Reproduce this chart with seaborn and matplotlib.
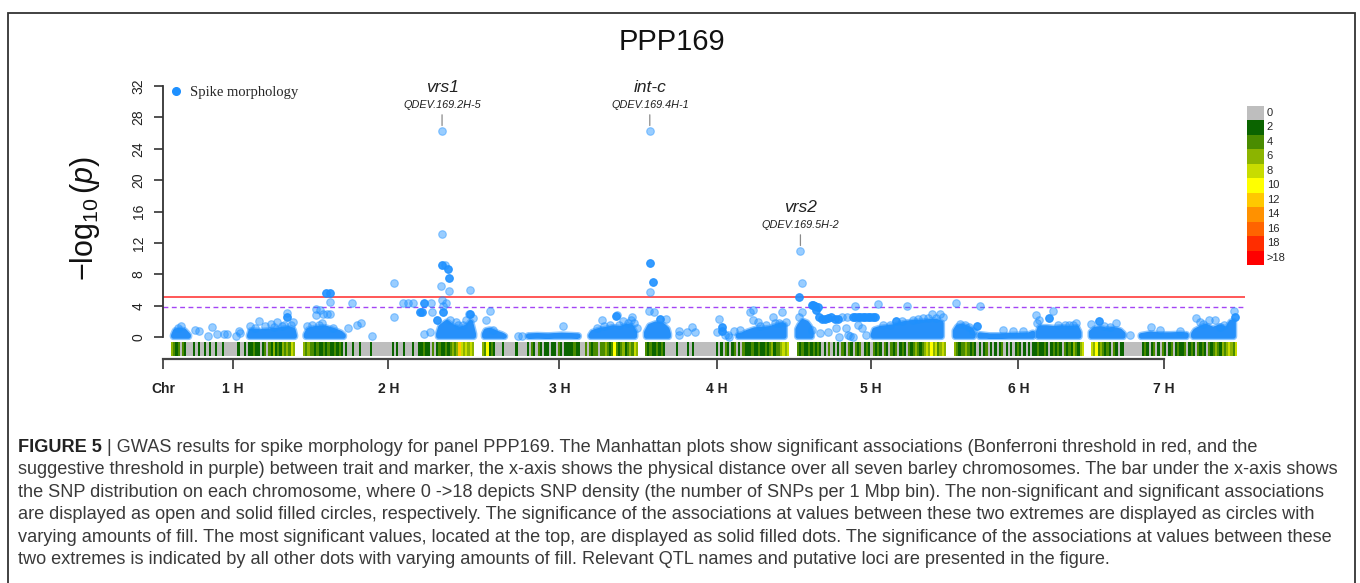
import numpy as np
import pandas as pd
import matplotlib
matplotlib.use("Agg")
import matplotlib.pyplot as plt
from matplotlib.colors import ListedColormap, to_rgb
from matplotlib.lines import Line2D
from matplotlib.patches import Rectangle
import seaborn as sns

sns.set_theme(style="ticks")
plt.rcParams['font.family'] = ['Liberation Sans', 'DejaVu Sans']
plt.rcParams['mathtext.fontset'] = 'custom'
plt.rcParams['mathtext.rm'] = 'Liberation Sans'
plt.rcParams['mathtext.it'] = 'Liberation Sans:italic'

# ---- data ----
CHROMS = ['1 H', '2 H', '3 H', '4 H', '5 H', '6 H', '7 H']
CHR_LEN_MB = [558, 768, 699, 647, 670, 583, 657]
GAP_MB = 36

BONFERRONI = 5.1
SUGGESTIVE = 3.79

# upper edge (Mb, -log10 p) of the dense clouds of non significant SNPs
cloud_1h = [[(11, 0.2), (20, 0.8), (40, 0.9), (60, 0.8), (79, 0.2)],
            [(353, 0.2), (360, 0.8), (400, 0.7), (446, 0.8), (490, 0.95), (530, 1.1), (550, 0.9), (556, 0.2)]]
cloud_2h = [[(14, 0.3), (25, 0.9), (54, 1.1), (99, 1.2), (144, 0.8), (170, 0.5), (182, 0.2)],
            [(610, 0.4), (620, 1.3), (648, 1.9), (675, 1.3), (707, 1.0), (738, 1.3), (755, 1.9), (768, 0.4)]]
cloud_3h = [[(13, 0.4), (20, 0.8), (37, 0.9), (69, 0.5), (90, 0.3), (103, 0.1)],
            [(210, 0.15), (250, 0.2), (300, 0.15), (360, 0.25), (400, 0.2), (435, 0.15)],
            [(491, 0.2), (500, 0.6), (533, 0.9), (564, 1.0), (591, 1.2), (623, 1.1), (654, 1.4), (675, 1.3), (689, 0.6)]]
cloud_4h = [[(7, 0.6), (22, 1.4), (50, 1.7), (81, 1.5), (100, 1.0), (106, 0.4)],
            [(420, 0.2), (440, 0.3), (459, 0.6), (495, 0.95), (531, 1.0), (563, 1.1), (594, 1.4), (615, 1.6), (627, 1.5)]]
cloud_5h = [[(5, 1.0), (14, 1.5), (28, 2.0), (45, 1.8), (58, 1.3), (66, 0.6)],
            [(345, 0.4), (351, 0.9), (374, 1.1), (405, 1.2), (432, 1.3), (464, 1.6), (495, 1.8), (531, 1.9),
             (563, 1.9), (599, 2.0), (630, 2.0), (651, 1.8)]]
cloud_6h = [[(8, 0.8), (19, 1.3), (37, 1.4), (60, 1.2), (80, 0.9), (89, 0.4)],
            [(118, 0.3), (163, 0.15), (208, 0.15), (253, 0.2), (298, 0.25), (340, 0.3), (357, 0.5)],
            [(381, 0.6), (389, 1.2), (420, 1.2), (456, 1.1), (487, 1.2), (523, 1.1), (555, 1.2), (565, 0.6)]]
cloud_7h = [[(1, 0.6), (17, 1.0), (40, 1.1), (71, 0.9), (98, 1.0), (130, 0.8), (145, 0.4)],
            [(226, 0.2), (265, 0.4), (310, 0.3), (355, 0.3), (400, 0.35), (429, 0.3)],
            [(461, 0.4), (470, 0.8), (490, 1.1), (517, 1.4), (549, 1.0), (580, 1.3), (612, 1.0), (630, 1.9), (641, 2.0)]]

# individual SNPs: (Mb, -log10 p, fill)  o = open/light, s = solid
snp_1h = [(45, 1.4, 'o'), (108, 0.89, 'o'), (127, 0.81, 'o'), (165, 0.13, 'o'), (186, 1.23, 'o'),
          (208, 0.38, 'o'), (240, 0.43, 'o'), (251, 0.43, 'o'), (292, 0.13, 'o'), (307, 0.81, 'o'),
          (310, 0.47, 'o'), (356, 1.4, 'o'), (397, 2.08, 'o'), (423, 1.4, 'o'), (449, 1.62, 'o'),
          (478, 1.87, 'o'), (498, 1.4, 'o'), (521, 3.1, 'o'), (521, 2.6, 's'), (548, 1.96, 'o'),
          (30, 1.2, 'o'), (380, 1.2, 'o'), (465, 1.3, 'o'), (510, 1.5, 'o'), (540, 1.5, 'o')]
snp_2h = [(17, 1.4, 'o'), (57, 2.8, 'o'), (60, 3.57, 'o'), (77, 3.5, 'o'), (84, 1.83, 'o'), (91, 2.93, 'o'),
          (106, 2.93, 'o'), (105, 5.65, 's'), (122, 5.65, 's'), (122, 4.5, 'o'), (122, 2.93, 'o'),
          (204, 1.1, 'o'), (219, 4.38, 'o'), (241, 1.53, 'o'), (261, 1.83, 'o'), (311, 0.13, 'o'),
          (410, 6.93, 'o'), (410, 2.5, 'o'), (449, 4.38, 'o'), (474, 4.38, 'o'), (497, 4.38, 'o'),
          (525, 3.23, 's'), (536, 3.23, 's'), (545, 4.38, 's'), (545, 0.38, 'o'), (572, 0.6, 'o'),
          (575, 4.38, 'o'), (582, 3.23, 'o'), (602, 2.17, 's'), (621, 6.55, 'o'), (624, 9.18, 's'),
          (626, 26.3, 'o'), (626, 13.2, 'o'), (624, 4.72, 'o'), (640, 9.18, 'o'), (654, 8.63, 's'),
          (658, 7.57, 's'), (658, 5.9, 'o'), (643, 4.3, 'o'), (630, 4.0, 'o'), (632, 3.23, 's'),
          (687, 1.96, 'o'), (732, 2.17, 'o'), (747, 3.0, 'o'), (750, 5.95, 'o'), (754, 2.9, 's'), (765, 2.4, 'o'),
          (40, 1.5, 'o'), (70, 1.6, 'o'), (135, 1.2, 'o'), (660, 2.2, 'o'), (700, 1.6, 'o'), (720, 1.5, 'o')]
snp_3h = [(19, 2.17, 'o'), (37, 3.36, 'o'), (165, 0.1, 'o'), (180, 0.15, 'o'), (365, 1.4, 'o'),
          (521, 1.1, 'o'), (540, 2.17, 'o'), (606, 2.7, 's'), (608, 2.8, 'o'), (638, 2.04, 'o'),
          (671, 2.17, 'o'), (678, 2.5, 'o'), (686, 1.83, 'o'), (699, 1.1, 'o'),
          (50, 0.9, 'o'), (550, 1.4, 'o'), (580, 1.5, 'o'), (620, 1.6, 'o'), (660, 1.8, 'o')]
snp_4h = [(22, 26.3, 'o'),
          (22, 9.48, 's'), (35, 7.06, 's'), (22, 5.7, 'o'), (19, 3.36, 'o'), (40, 3.2, 'o'), (67, 2.35, 's'),
          (97, 2.25, 'o'), (154, 0.81, 'o'), (154, 0.26, 'o'), (188, 0.6, 'o'), (211, 1.32, 'o'),
          (225, 0.6, 'o'), (325, 0.68, 'o'), (333, 2.25, 'o'), (345, 1.32, 's'), (349, 0.81, 's'),
          (360, 0.26, 'o'), (375, 0.26, 'o'), (379, 0.05, 'o'), (400, 0.81, 'o'), (428, 0.89, 'o'),
          (473, 3.23, 'o'), (488, 3.44, 'o'), (486, 2.17, 'o'), (509, 1.96, 'o'), (576, 2.51, 'o'),
          (618, 3.23, 'o'), (605, 1.74, 'o'), (635, 1.96, 'o'),
          (520, 1.4, 'o'), (545, 1.5, 'o'), (585, 1.8, 'o')]
snp_5h = [(17, 11.0, 'o'), (25, 6.85, 'o'), (11, 5.15, 's'), (26, 3.23, 'o'), (10, 2.5, 'o'),
          (67, 4.08, 's'), (75, 4.08, 's'), (82, 4.0, 's'), (89, 3.44, 's'), (97, 3.8, 's'),
          (100, 2.6, 's'), (112, 2.3, 's'), (126, 2.3, 's'), (140, 2.4, 's'), (155, 2.5, 's'),
          (172, 2.3, 's'), (185, 2.3, 's'), (67, 0.85, 'o'), (104, 0.47, 'o'), (142, 0.68, 'o'),
          (179, 1.1, 'o'), (191, 0.05, 'o'), (204, 2.6, 'o'), (224, 1.1, 'o'), (226, 2.6, 'o'),
          (231, 0.26, 'o'), (240, 0.1, 'o'), (252, 2.6, 's'), (254, 0.05, 'o'), (261, 4.0, 'o'),
          (263, 2.6, 's'), (274, 2.6, 's'), (276, 1.53, 'o'), (286, 2.6, 's'), (292, 1.1, 'o'),
          (297, 2.6, 's'), (309, 2.6, 's'), (314, 0.26, 'o'), (320, 2.6, 's'), (331, 2.6, 's'),
          (342, 2.6, 's'), (351, 2.6, 's'), (366, 4.17, 'o'), (449, 2.08, 's'), (495, 3.95, 'o'),
          (523, 2.17, 'o'), (568, 2.4, 'o'), (608, 2.93, 'o'), (644, 2.93, 'o'), (658, 2.5, 'o'),
          (390, 1.5, 'o'), (420, 1.6, 'o'), (475, 2.1, 'o'), (545, 2.3, 'o'), (590, 2.4, 'o'), (625, 2.4, 'o')]
snp_6h = [(10, 4.3, 'o'), (118, 4.0, 'o'), (87, 0.81, 'o'), (105, 1.4, 's'), (69, 1.23, 'o'),
          (224, 0.85, 'o'), (269, 0.8, 'o'), (314, 0.8, 'o'), (373, 2.8, 'o'), (385, 2.17, 'o'),
          (376, 1.74, 'o'), (447, 3.36, 'o'), (432, 2.38, 's'), (553, 1.74, 'o'), (522, 1.5, 'o'),
          (30, 1.7, 'o'), (50, 1.6, 'o'), (470, 1.5, 'o'), (500, 1.6, 'o'), (540, 1.5, 'o')]
snp_7h = [(36, 2.08, 's'), (111, 1.74, 'o'), (0, 1.7, 'o'), (175, 0.26, 'o'), (268, 1.23, 'o'),
          (310, 0.9, 'o'), (400, 0.8, 'o'), (474, 2.38, 'o'), (491, 1.96, 'o'), (531, 2.17, 'o'),
          (557, 2.17, 'o'), (580, 1.23, 'o'), (642, 3.32, 'o'), (648, 2.6, 's'),
          (60, 1.4, 'o'), (85, 1.3, 'o'), (505, 1.7, 'o'), (600, 1.6, 'o')]

# SNP density per bin (index into DENS_COLORS), one string per chromosome
dens_1h = "3212021000" "1010010100" "1001000000" "1001011211" "0120213121" "323243"
dens_2h = "3232" "21211212112121" "0100100100001" "000000000101001000100" "11211" "0201" "211212323" "643" "4343"
dens_3h = "3251210" "0010000010000" "102102101" "1011021011" "11211" "0020" "212202" "2321252123123243"
dens_4h = "2121121210" "00001000010100000000001" "01021012010211" "121121121231223434"
dens_5h = "21211212121" "010201010" "210210212012102121" "0210212012102123212" "3435342343"
dens_6h = "3212232121" "01012010101201010121010101" "121121012" "1210212132134"
dens_7h = "43523212" "10210110" "00000001" "210120102101201" "211201210212102" "123213234324"

DENS_LABELS = ['0', '2', '4', '6', '8', '10', '12', '14', '16', '18', '>18']
DENS_COLORS = ['#BEBEBE', '#0B6400', '#4A8C00', '#8CB400', '#C8DC00', '#FFFF00',
               '#FFC800', '#FF9100', '#FF6400', '#FF2D00', '#FF0000']

loci_gene = ['vrs1', 'int-c', 'vrs2']
loci_qtl = ['QDEV.169.2H-5', 'QDEV.169.4H-1', 'QDEV.169.5H-2']
loci_chr = [1, 3, 4]
loci_mb = [626, 22, 17]
loci_logp = [26.3, 26.3, 11.0]

CAPTION_LINES = [
    "| GWAS results for spike morphology for panel PPP169. The Manhattan plots show significant associations (Bonferroni threshold in red, and the",
    "suggestive threshold in purple) between trait and marker, the x-axis shows the physical distance over all seven barley chromosomes. The bar under the x-axis shows",
    "the SNP distribution on each chromosome, where 0 ->18 depicts SNP density (the number of SNPs per 1 Mbp bin). The non-significant and significant associations",
    "are displayed as open and solid filled circles, respectively. The significance of the associations at values between these two extremes are displayed as circles with",
    "varying amounts of fill. The most significant values, located at the top, are displayed as solid filled dots. The significance of the associations at values between these",
    "two extremes is indicated by all other dots with varying amounts of fill. Relevant QTL names and putative loci are presented in the figure.",
]

clouds = [cloud_1h, cloud_2h, cloud_3h, cloud_4h, cloud_5h, cloud_6h, cloud_7h]
snps = [snp_1h, snp_2h, snp_3h, snp_4h, snp_5h, snp_6h, snp_7h]
dens = [dens_1h, dens_2h, dens_3h, dens_4h, dens_5h, dens_6h, dens_7h]

BLUE = '#1E90FF'
CLOUD_BLUE = '#2690FA'

offsets = np.concatenate([[0], np.cumsum(np.array(CHR_LEN_MB[:-1]) + GAP_MB)])
centers = offsets + np.array(CHR_LEN_MB) / 2
total = offsets[-1] + CHR_LEN_MB[-1]

rows = []
for i, lst in enumerate(snps):
    for mb, lp, fill in lst:
        rows.append({'chrom': CHROMS[i], 'pos': offsets[i] + mb, 'logp': lp, 'fill': fill})
df = pd.DataFrame(rows)

# ---- figure ----
W, H = 1360, 583
fig = plt.figure(figsize=(W / 100, H / 100), dpi=100)


def fx(px):
    return px / W


def fy(py):
    return 1 - py / H


ax = fig.add_axes([fx(163), fy(372), fx(1245) - fx(163), fy(70) - fy(372)])

# density strip under the points
for i, s in enumerate(dens):
    rgb = np.array([to_rgb(DENS_COLORS[int(c)]) for c in s])[None, :, :]
    ax.imshow(rgb, extent=[offsets[i], offsets[i] + CHR_LEN_MB[i], -2.42, -0.68],
              aspect='auto', interpolation='nearest', zorder=1)

# dense clouds: light rim like the overlapping translucent dots, solid core
for i, segs in enumerate(clouds):
    for seg in segs:
        xs = [offsets[i] + p[0] for p in seg]
        ys = [p[1] for p in seg]
        px_ = xs + xs[::-1]
        py_ = ys + [0.1] * len(xs)
        ax.fill(px_, py_, facecolor='none', edgecolor=BLUE, alpha=0.5, linewidth=5.5,
                joinstyle='round', zorder=2)
        ax.fill(px_, py_, facecolor=CLOUD_BLUE, edgecolor=CLOUD_BLUE, linewidth=3.5,
                joinstyle='round', zorder=2.1)

ax.axhline(BONFERRONI, color='#FF3B3B', lw=1.2, zorder=1.5)
ax.axhline(SUGGESTIVE, color='#A445F5', lw=1.0, ls=(0, (3.5, 2.5)), zorder=1.5)

sns.scatterplot(data=df[df['fill'] == 'o'], x='pos', y='logp', color=BLUE, alpha=0.45,
                edgecolor=BLUE, linewidth=0.8, s=30, ax=ax, zorder=3, legend=False)
sns.scatterplot(data=df[df['fill'] == 's'], x='pos', y='logp', color=BLUE, alpha=0.9,
                edgecolor=BLUE, linewidth=0.8, s=30, ax=ax, zorder=4, legend=False)

# locus annotations
for g, q, c, mb, lp in zip(loci_gene, loci_qtl, loci_chr, loci_mb, loci_logp):
    x = offsets[c] + mb
    ax.annotate('', xy=(x, lp), xytext=(0, 16 * 0.72), textcoords='offset points',
                arrowprops=dict(arrowstyle='-', color='#8A8A8A', lw=0.9, shrinkA=0, shrinkB=3.8))
    ax.annotate(q, xy=(x, lp), xytext=(0, 26 * 0.72), textcoords='offset points',
                ha='center', va='center', fontsize=7.8, style='italic', color='#222222')
    ax.annotate(g, xy=(x, lp), xytext=(0, 43 * 0.72), textcoords='offset points',
                ha='center', va='center', fontsize=12.5, style='italic', color='#222222')

ax.set_xlim(-GAP_MB, total + GAP_MB)
ax.set_ylim(-4.45, 34.05)
ax.set_xlabel('')
ax.set_ylabel('')
ax.grid(False)

for side in ['top', 'right']:
    ax.spines[side].set_visible(False)
ax.spines['left'].set_bounds(0, 32)
ax.spines['left'].set_color('#333333')
ax.spines['left'].set_linewidth(1.3)
ax.spines['bottom'].set_position(('data', -2.84))
ax.spines['bottom'].set_bounds(-GAP_MB, centers[-1])
ax.spines['bottom'].set_color('#444444')
ax.spines['bottom'].set_linewidth(1.6)

ax.set_yticks(range(0, 33, 4))
ax.set_yticklabels([str(v) for v in range(0, 33, 4)], rotation=90, va='center', fontsize=10)
ax.set_xticks([-GAP_MB] + list(centers))
ax.set_xticklabels(['Chr'] + CHROMS, fontweight='bold', fontsize=10)
ax.tick_params(axis='y', length=6.5, width=1.2, pad=6, color='#333333', labelcolor='#222222')
ax.tick_params(axis='x', length=7, width=1.3, pad=9, color='#444444', labelcolor='#222222')

ax.legend(handles=[Line2D([], [], marker='o', ls='', color=BLUE, markersize=5.5)],
          labels=['Spike morphology'], loc='upper left',
          bbox_to_anchor=(fx(170), fy(86)), bbox_transform=fig.transFigure, frameon=False,
          prop={'family': 'Liberation Serif', 'size': 10.5}, handlelength=0.8,
          handletextpad=0.6, borderpad=0, borderaxespad=0)

# density colour key
cax = fig.add_axes([fx(1247), fy(265), fx(1264) - fx(1247), fy(105.7) - fy(265)])
sns.heatmap(np.arange(len(DENS_COLORS)).reshape(-1, 1), cmap=ListedColormap(DENS_COLORS),
            vmin=-0.5, vmax=len(DENS_COLORS) - 0.5, cbar=False, ax=cax,
            xticklabels=False, yticklabels=DENS_LABELS)
cax.yaxis.tick_right()
cax.tick_params(axis='y', length=0, pad=2, labelsize=8, labelrotation=0)
for lab in cax.get_yticklabels():
    lab.set_va('center')

fig.text(fx(672), fy(42), 'PPP169', fontsize=21, ha='center', va='center', color='#111111')
fig.text(fx(85), fy(218), r'$-\log_{10}(p)$', rotation=90, fontsize=22, ha='center', va='center',
         color='#111111')

# caption
r = fig.canvas.get_renderer()
probe = fig.text(0, 0, CAPTION_LINES[1], fontsize=11)
cap_size = 11 * 1314 / probe.get_window_extent(renderer=r).width
probe.remove()
for i, line in enumerate(CAPTION_LINES):
    y = fy(451.5 + 22.6 * i)
    x = fx(18)
    if i == 0:
        t = fig.text(x, y, 'FIGURE 5 ', fontsize=cap_size, fontweight='bold', color='#222222', va='baseline')
        x += t.get_window_extent(renderer=r).width / W
    fig.text(x, y, line, fontsize=cap_size, color='#3A3A3A', va='baseline')

fig.add_artist(Rectangle((fx(7.5), -0.1), fx(1355) - fx(7.5), fy(13.3) + 0.1,
                         transform=fig.transFigure, fill=False, lw=1.3, ec='#333333'))

fig.savefig('out.png', dpi=100)
